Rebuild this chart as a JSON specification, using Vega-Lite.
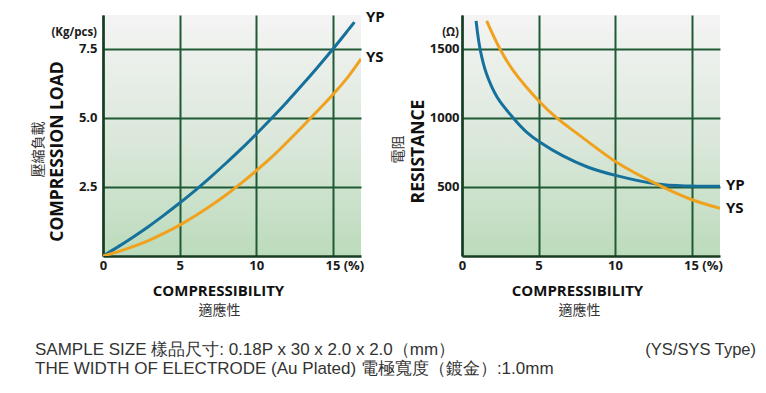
{
  "$schema": "https://vega.github.io/schema/vega-lite/v6.json",
  "background": "#ffffff",
  "padding": {"left": 31, "top": 9, "right": 5, "bottom": 5},
  "spacing": 101,
  "bounds": "flush",
  "config": {
    "font": "Open Sans",
    "view": {
      "stroke": null,
      "fill": {
        "gradient": "linear", "x1": 0, "y1": 0, "x2": 0, "y2": 1,
        "stops": [
          {"offset": 0, "color": "#f4f4f4"},
          {"offset": 0.5, "color": "#dce8dc"},
          {"offset": 1, "color": "#bcdbbc"}
        ]
      }
    },
    "axis": {
      "labelFont": "Open Sans", "labelFontWeight": "bold", "labelFontSize": 13, "labelColor": "#1a1a1a",
      "titleFont": "Open Sans", "titleColor": "#111111",
      "ticks": false, "gridColor": "#1f5a35", "gridWidth": 2, "gridOpacity": 1,
      "domainColor": "#163d22", "domainWidth": 2.5
    }
  },
  "datasets": {
    "load": [
      {"series": "YP", "x": 0, "y": 0}, {"series": "YP", "x": 1, "y": 0.34}, {"series": "YP", "x": 2, "y": 0.7},
      {"series": "YP", "x": 3, "y": 1.08}, {"series": "YP", "x": 4, "y": 1.49}, {"series": "YP", "x": 5, "y": 1.92},
      {"series": "YP", "x": 6, "y": 2.37}, {"series": "YP", "x": 7, "y": 2.85}, {"series": "YP", "x": 8, "y": 3.35},
      {"series": "YP", "x": 9, "y": 3.87}, {"series": "YP", "x": 10, "y": 4.42}, {"series": "YP", "x": 11, "y": 4.99},
      {"series": "YP", "x": 12, "y": 5.58}, {"series": "YP", "x": 13, "y": 6.2}, {"series": "YP", "x": 14, "y": 6.84},
      {"series": "YP", "x": 15, "y": 7.5}, {"series": "YP", "x": 16, "y": 8.19}, {"series": "YP", "x": 16.4, "y": 8.47},
      {"series": "YS", "x": 0, "y": 0}, {"series": "YS", "x": 1, "y": 0.16}, {"series": "YS", "x": 2, "y": 0.35},
      {"series": "YS", "x": 3, "y": 0.57}, {"series": "YS", "x": 4, "y": 0.83}, {"series": "YS", "x": 5, "y": 1.12},
      {"series": "YS", "x": 6, "y": 1.45}, {"series": "YS", "x": 7, "y": 1.81}, {"series": "YS", "x": 8, "y": 2.2},
      {"series": "YS", "x": 9, "y": 2.63}, {"series": "YS", "x": 10, "y": 3.09}, {"series": "YS", "x": 11, "y": 3.58},
      {"series": "YS", "x": 12, "y": 4.12}, {"series": "YS", "x": 13, "y": 4.68}, {"series": "YS", "x": 14, "y": 5.26},
      {"series": "YS", "x": 15, "y": 5.85}, {"series": "YS", "x": 16, "y": 6.5}, {"series": "YS", "x": 16.83, "y": 7.14}
    ],
    "res": [
      {"series": "YP", "x": 0.92, "y": 1703}, {"series": "YP", "x": 1.18, "y": 1500}, {"series": "YP", "x": 1.6, "y": 1320},
      {"series": "YP", "x": 2.3, "y": 1150}, {"series": "YP", "x": 3.35, "y": 1000}, {"series": "YP", "x": 4.2, "y": 900},
      {"series": "YP", "x": 5.1, "y": 824}, {"series": "YP", "x": 6.6, "y": 725}, {"series": "YP", "x": 8.2, "y": 645},
      {"series": "YP", "x": 10.1, "y": 582}, {"series": "YP", "x": 12.7, "y": 522}, {"series": "YP", "x": 14.9, "y": 507},
      {"series": "YP", "x": 16.86, "y": 506},
      {"series": "YS", "x": 1.61, "y": 1703}, {"series": "YS", "x": 2.48, "y": 1500}, {"series": "YS", "x": 3.35, "y": 1343},
      {"series": "YS", "x": 5.1, "y": 1114}, {"series": "YS", "x": 6.19, "y": 1000}, {"series": "YS", "x": 7.71, "y": 872},
      {"series": "YS", "x": 10.1, "y": 679}, {"series": "YS", "x": 12.7, "y": 522}, {"series": "YS", "x": 14.9, "y": 413},
      {"series": "YS", "x": 16.86, "y": 345}
    ],
    "loadLabels": [
      {"label": "YP", "x": 16.83, "y": 8.66},
      {"label": "YS", "x": 16.83, "y": 7.21}
    ],
    "loadUnit": [{"label": "(Kg/pcs)", "x": 0, "y": 7.97}],
    "resLabels": [
      {"label": "YP", "x": 16.86, "y": 514},
      {"label": "YS", "x": 16.86, "y": 348}
    ],
    "resUnit": [{"label": "(Ω)", "x": 0, "y": 1594}]
  },
  "hconcat": [
    {
      "width": 258,
      "height": 241,
      "title": {
        "text": ["SAMPLE SIZE 樣品尺寸: 0.18P x 30 x 2.0 x 2.0（mm）", "THE WIDTH OF ELECTRODE (Au Plated) 電極寬度（鍍金）:1.0mm"],
        "orient": "bottom", "anchor": "start", "frame": "group", "dx": -68, "offset": 25,
        "font": "Liberation Sans, Arial, sans-serif", "fontSize": 17, "fontWeight": "normal", "color": "#333333", "lineHeight": 19
      },
      "layer": [
        {
          "data": {"name": "load"},
          "mark": {"type": "line", "strokeWidth": 3, "interpolate": "catmull-rom", "clip": true},
          "encoding": {
            "x": {"field": "x", "type": "quantitative",
              "scale": {"domain": [0, 16.83], "nice": false, "zero": false},
              "axis": {"values": [0, 5, 10, 15], "labelExpr": "datum.value == 15 ? '15 (%)' : datum.label", "labelPadding": 3,
                "labelAlign": {"condition": {"test": "datum.value == 15", "value": "left"}, "value": "center"},
                "labelOffset": {"condition": {"test": "datum.value == 15", "value": -8}, "value": 0},
                "title": "COMPRESSIBILITY", "titleFontSize": 15, "titleFontWeight": "bold", "titleX": 115, "titleY": 34, "titleBaseline": "middle"}},
            "y": {"field": "y", "type": "quantitative",
              "scale": {"domain": [0, 8.73], "nice": false, "zero": false},
              "axis": {"values": [2.5, 5, 7.5], "format": ".1f", "labelPadding": 6,
                "title": "COMPRESSION LOAD", "titleFontSize": 17.5, "titleFontWeight": "bold", "titleX": -46, "titleY": 136, "titleBaseline": "middle"}},
            "color": {"field": "series", "type": "nominal", "scale": {"domain": ["YP", "YS"], "range": ["#15719b", "#f0a21f"]}, "legend": null}
          }
        },
        {
          "data": {"name": "loadLabels"},
          "mark": {"type": "text", "align": "left", "baseline": "middle", "dx": 5, "fontSize": 15, "fontWeight": "bold", "color": "#111111"},
          "encoding": {
            "x": {"field": "x", "type": "quantitative", "scale": {"domain": [0, 16.83]},
              "axis": {"orient": "bottom", "labels": false, "domain": false, "grid": false, "title": "適應性", "titleFontSize": 14, "titleFontWeight": "normal", "titleColor": "#333333", "titleFont": "Noto Sans CJK TC", "titleX": 116, "titleY": 54, "titleBaseline": "middle"}},
            "y": {"field": "y", "type": "quantitative", "scale": {"domain": [0, 8.73]},
              "axis": {"orient": "left", "labels": false, "domain": false, "grid": false, "title": "壓縮負載", "titleFontSize": 14, "titleFontWeight": "normal", "titleColor": "#333333", "titleFont": "Noto Sans CJK TC", "titleX": -65, "titleY": 134, "titleBaseline": "middle"}},
            "text": {"field": "label"}
          }
        },
        {
          "data": {"name": "loadUnit"},
          "mark": {"type": "text", "align": "right", "baseline": "middle", "dx": -6, "dy": -3, "fontSize": 11.5, "fontWeight": "bold", "color": "#1a1a1a"},
          "encoding": {
            "x": {"field": "x", "type": "quantitative", "scale": {"domain": [0, 16.83]}, "axis": null},
            "y": {"field": "y", "type": "quantitative", "scale": {"domain": [0, 8.73]}, "axis": null},
            "text": {"field": "label"}
          }
        }
      ],
      "resolve": {"axis": {"x": "independent", "y": "independent"}}
    },
    {
      "width": 258,
      "height": 241,
      "title": {
        "text": "(YS/SYS Type)",
        "orient": "bottom", "anchor": "end", "frame": "group", "dx": 36, "offset": 25,
        "font": "Liberation Sans, Arial, sans-serif", "fontSize": 16.5, "fontWeight": "normal", "color": "#333333"
      },
      "layer": [
        {
          "data": {"name": "res"},
          "mark": {"type": "line", "strokeWidth": 3, "interpolate": "catmull-rom", "clip": true},
          "encoding": {
            "x": {"field": "x", "type": "quantitative",
              "scale": {"domain": [0, 16.86], "nice": false, "zero": false},
              "axis": {"values": [0, 5, 10, 15], "labelExpr": "datum.value == 15 ? '15 (%)' : datum.label", "labelPadding": 3,
                "labelAlign": {"condition": {"test": "datum.value == 15", "value": "left"}, "value": "center"},
                "labelOffset": {"condition": {"test": "datum.value == 15", "value": -8}, "value": 0},
                "title": "COMPRESSIBILITY", "titleFontSize": 15, "titleFontWeight": "bold", "titleX": 115, "titleY": 34, "titleBaseline": "middle"}},
            "y": {"field": "y", "type": "quantitative",
              "scale": {"domain": [0, 1746], "nice": false, "zero": false},
              "axis": {"values": [500, 1000, 1500], "format": "d", "labelPadding": 3,
                "title": "RESISTANCE", "titleFontSize": 17.5, "titleFontWeight": "bold", "titleX": -44, "titleY": 136, "titleBaseline": "middle"}},
            "color": {"field": "series", "type": "nominal", "scale": {"domain": ["YP", "YS"], "range": ["#15719b", "#f0a21f"]}, "legend": null}
          }
        },
        {
          "data": {"name": "resLabels"},
          "mark": {"type": "text", "align": "left", "baseline": "middle", "dx": 6, "fontSize": 15, "fontWeight": "bold", "color": "#111111"},
          "encoding": {
            "x": {"field": "x", "type": "quantitative", "scale": {"domain": [0, 16.86]},
              "axis": {"orient": "bottom", "labels": false, "domain": false, "grid": false, "title": "適應性", "titleFontSize": 14, "titleFontWeight": "normal", "titleColor": "#333333", "titleFont": "Noto Sans CJK TC", "titleX": 117, "titleY": 54, "titleBaseline": "middle"}},
            "y": {"field": "y", "type": "quantitative", "scale": {"domain": [0, 1746]},
              "axis": {"orient": "left", "labels": false, "domain": false, "grid": false, "title": "電阻", "titleFontSize": 14, "titleFontWeight": "normal", "titleColor": "#333333", "titleFont": "Noto Sans CJK TC", "titleX": -64, "titleY": 134, "titleBaseline": "middle"}},
            "text": {"field": "label"}
          }
        },
        {
          "data": {"name": "resUnit"},
          "mark": {"type": "text", "align": "right", "baseline": "middle", "dx": -3, "dy": -3, "fontSize": 11.5, "fontWeight": "bold", "color": "#1a1a1a"},
          "encoding": {
            "x": {"field": "x", "type": "quantitative", "scale": {"domain": [0, 16.86]}, "axis": null},
            "y": {"field": "y", "type": "quantitative", "scale": {"domain": [0, 1746]}, "axis": null},
            "text": {"field": "label"}
          }
        }
      ],
      "resolve": {"axis": {"x": "independent", "y": "independent"}}
    }
  ]
}
